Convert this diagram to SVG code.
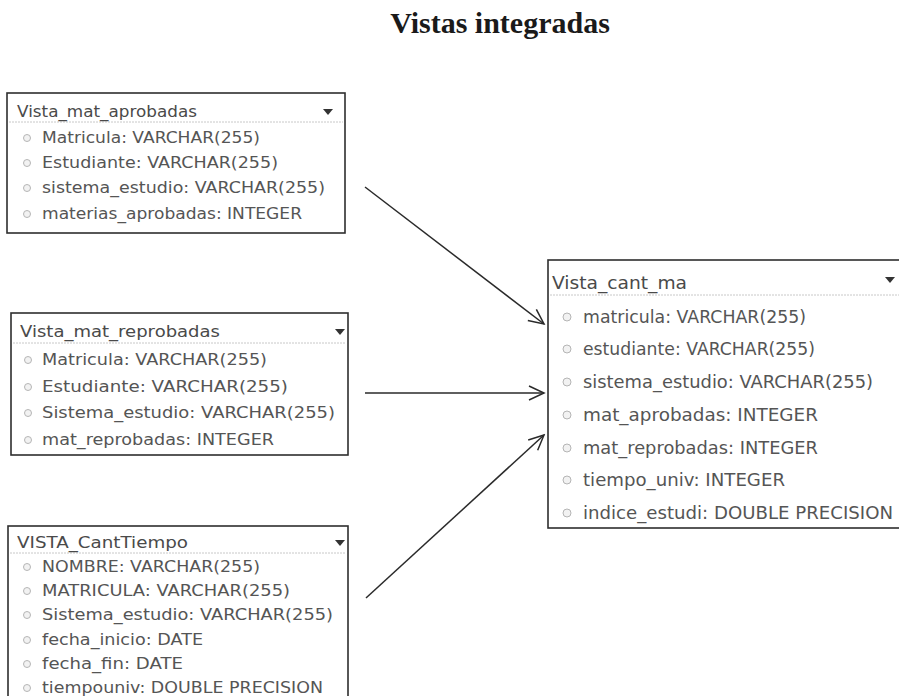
<svg xmlns="http://www.w3.org/2000/svg" width="899" height="696" viewBox="0 0 899 696">
<style>
.title{font-family:"Liberation Serif","Times New Roman",serif;font-weight:bold;font-size:30px;fill:#1a1a1a}
.box{fill:#ffffff;stroke:#2e2e2e;stroke-width:1.6}
.sep{stroke:#c8c8c8;stroke-width:1;stroke-dasharray:2 1}
.hd{font-family:"DejaVu Sans",Verdana,sans-serif;font-size:15px;fill:#4a4a4a}
.row{font-family:"DejaVu Sans",Verdana,sans-serif;font-size:15px;fill:#555555}
.hd4{font-family:"DejaVu Sans",Verdana,sans-serif;font-size:18px;fill:#4a4a4a}
.row4{font-family:"DejaVu Sans",Verdana,sans-serif;font-size:18px;fill:#555555}
.ic{fill:#f2f2f2;stroke:#b5b5b5;stroke-width:1}
.tri{fill:#333333}
.conn{stroke:#2a2a2a;stroke-width:1.5;fill:none}
</style>
<defs>
<marker id="arr" markerUnits="userSpaceOnUse" markerWidth="18" markerHeight="18" refX="16" refY="9" orient="auto">
<path d="M1,2 L16,9 L1,16" fill="none" stroke="#2a2a2a" stroke-width="1.5"/>
</marker>
</defs>
<rect width="899" height="696" fill="#ffffff"/>
<text class="title" x="500" y="33" text-anchor="middle">Vistas integradas</text>

<g id="vista_mat_aprobadas">
<rect class="box" x="7" y="93" width="338" height="140"/>
<line class="sep" x1="9" y1="122" x2="343" y2="122"/>
<text class="hd" x="17" y="117" textLength="180" lengthAdjust="spacingAndGlyphs">Vista_mat_aprobadas</text>
<path class="tri" d="M323,109 L333,109 L328,115 Z"/>
<circle class="ic" cx="27" cy="138" r="3.5"/>
<circle class="ic" cx="27" cy="163" r="3.5"/>
<circle class="ic" cx="27" cy="188" r="3.5"/>
<circle class="ic" cx="27" cy="214" r="3.5"/>
<text class="row" x="42" y="143" textLength="218" lengthAdjust="spacingAndGlyphs">Matricula: VARCHAR(255)</text>
<text class="row" x="42" y="168" textLength="236" lengthAdjust="spacingAndGlyphs">Estudiante: VARCHAR(255)</text>
<text class="row" x="42" y="193" textLength="283" lengthAdjust="spacingAndGlyphs">sistema_estudio: VARCHAR(255)</text>
<text class="row" x="42" y="219" textLength="260" lengthAdjust="spacingAndGlyphs">materias_aprobadas: INTEGER</text>
</g>

<g id="vista_mat_reprobadas">
<rect class="box" x="11" y="313" width="337" height="142"/>
<line class="sep" x1="13" y1="343" x2="346" y2="343"/>
<text class="hd" x="20" y="337" textLength="200" lengthAdjust="spacingAndGlyphs">Vista_mat_reprobadas</text>
<path class="tri" d="M335,329 L345,329 L340,335 Z"/>
<circle class="ic" cx="28" cy="360" r="3.5"/>
<circle class="ic" cx="28" cy="387" r="3.5"/>
<circle class="ic" cx="28" cy="413" r="3.5"/>
<circle class="ic" cx="28" cy="440" r="3.5"/>
<text class="row" x="42" y="365" textLength="225" lengthAdjust="spacingAndGlyphs">Matricula: VARCHAR(255)</text>
<text class="row" x="42" y="392" textLength="246" lengthAdjust="spacingAndGlyphs">Estudiante: VARCHAR(255)</text>
<text class="row" x="42" y="418" textLength="293" lengthAdjust="spacingAndGlyphs">Sistema_estudio: VARCHAR(255)</text>
<text class="row" x="42" y="445" textLength="232" lengthAdjust="spacingAndGlyphs">mat_reprobadas: INTEGER</text>
</g>

<g id="vista_canttiempo">
<rect class="box" x="8" y="526" width="340" height="190"/>
<line class="sep" x1="10" y1="553" x2="346" y2="553"/>
<text class="hd" x="17" y="548" textLength="171" lengthAdjust="spacingAndGlyphs">VISTA_CantTiempo</text>
<path class="tri" d="M335,540 L345,540 L340,546 Z"/>
<circle class="ic" cx="27" cy="567" r="3.5"/>
<circle class="ic" cx="27" cy="591" r="3.5"/>
<circle class="ic" cx="27" cy="615" r="3.5"/>
<circle class="ic" cx="27" cy="640" r="3.5"/>
<circle class="ic" cx="27" cy="664" r="3.5"/>
<circle class="ic" cx="27" cy="688" r="3.5"/>
<text class="row" x="42" y="572" textLength="218" lengthAdjust="spacingAndGlyphs">NOMBRE: VARCHAR(255)</text>
<text class="row" x="42" y="596" textLength="248" lengthAdjust="spacingAndGlyphs">MATRICULA: VARCHAR(255)</text>
<text class="row" x="42" y="620" textLength="291" lengthAdjust="spacingAndGlyphs">Sistema_estudio: VARCHAR(255)</text>
<text class="row" x="42" y="645" textLength="161" lengthAdjust="spacingAndGlyphs">fecha_inicio: DATE</text>
<text class="row" x="42" y="669" textLength="141" lengthAdjust="spacingAndGlyphs">fecha_fin: DATE</text>
<text class="row" x="42" y="693" textLength="281" lengthAdjust="spacingAndGlyphs">tiempouniv: DOUBLE PRECISION</text>
</g>

<g id="vista_cant_ma">
<rect class="box" x="548" y="260" width="360" height="268"/>
<line class="sep" x1="550" y1="295" x2="899" y2="295"/>
<text class="hd4" x="552" y="289" textLength="135" lengthAdjust="spacingAndGlyphs">Vista_cant_ma</text>
<path class="tri" d="M885,277 L895,277 L890,283 Z"/>
<circle class="ic" cx="567" cy="317" r="4"/>
<circle class="ic" cx="567" cy="349" r="4"/>
<circle class="ic" cx="567" cy="382" r="4"/>
<circle class="ic" cx="567" cy="415" r="4"/>
<circle class="ic" cx="567" cy="448" r="4"/>
<circle class="ic" cx="567" cy="480" r="4"/>
<circle class="ic" cx="567" cy="513" r="4"/>
<text class="row4" x="583" y="323" textLength="223" lengthAdjust="spacingAndGlyphs">matricula: VARCHAR(255)</text>
<text class="row4" x="583" y="355" textLength="232" lengthAdjust="spacingAndGlyphs">estudiante: VARCHAR(255)</text>
<text class="row4" x="583" y="388" textLength="290" lengthAdjust="spacingAndGlyphs">sistema_estudio: VARCHAR(255)</text>
<text class="row4" x="583" y="421" textLength="235" lengthAdjust="spacingAndGlyphs">mat_aprobadas: INTEGER</text>
<text class="row4" x="583" y="454" textLength="235" lengthAdjust="spacingAndGlyphs">mat_reprobadas: INTEGER</text>
<text class="row4" x="583" y="486" textLength="202" lengthAdjust="spacingAndGlyphs">tiempo_univ: INTEGER</text>
<text class="row4" x="583" y="519" textLength="310" lengthAdjust="spacingAndGlyphs">indice_estudi: DOUBLE PRECISION</text>
</g>

<g id="connectors">
<line class="conn" x1="365" y1="187" x2="544" y2="324" marker-end="url(#arr)"/>
<line class="conn" x1="365" y1="393" x2="544" y2="393" marker-end="url(#arr)"/>
<line class="conn" x1="366" y1="598" x2="544" y2="435" marker-end="url(#arr)"/>
</g>
</svg>
